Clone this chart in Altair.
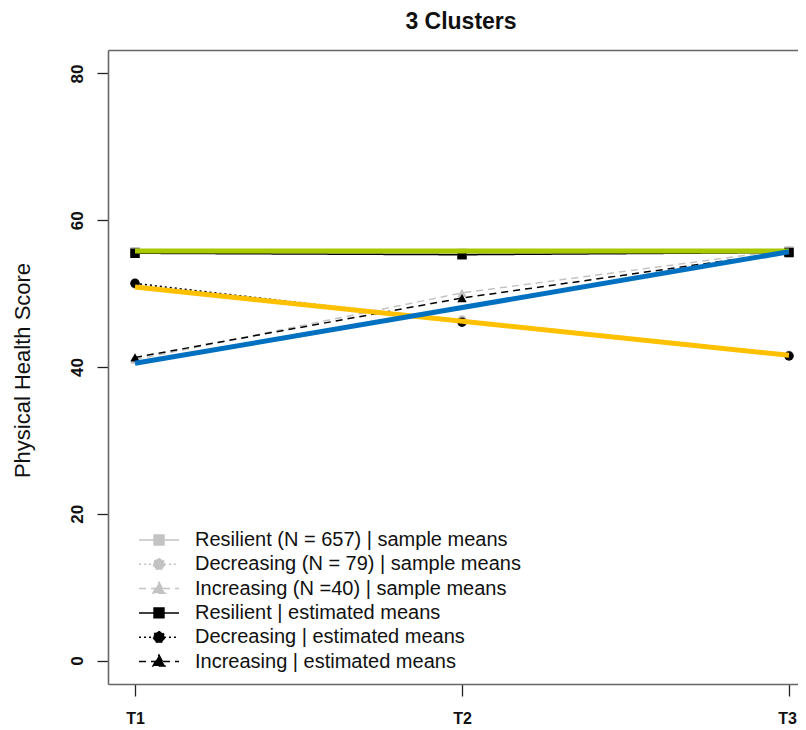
import altair as alt
import pandas as pd

# ---------------- data ----------------
times = [1, 2, 3]
time_labels = ["T1", "T2", "T3"]
y_ticks = [0, 20, 40, 60, 80]

series_labels = [
    "Resilient (N = 657) | sample means",
    "Decreasing (N = 79) | sample means",
    "Increasing (N =40) | sample means",
    "Resilient | estimated means",
    "Decreasing | estimated means",
    "Increasing | estimated means",
]
sample_resilient = [55.7, 55.5, 55.8]
sample_decreasing = [51.3, 46.4, 41.6]
sample_increasing = [41.0, 50.1, 56.0]
est_resilient = [55.5, 55.3, 55.6]
est_decreasing = [51.4, 46.1, 41.5]
est_increasing = [41.3, 49.4, 55.7]
series_values = [sample_resilient, sample_decreasing, sample_increasing,
                 est_resilient, est_decreasing, est_increasing]

series_colors = ["#c3c3c3", "#c3c3c3", "#c3c3c3", "#000000", "#000000", "#000000"]
series_dashes = [[1, 0], [2, 3], [7, 5], [1, 0], [2, 3], [7, 5]]
series_shapes = ["square", "circle", "triangle-up", "square", "circle", "triangle-up"]

# coloured overlay lines (cluster trajectories)
highlight_names = ["Resilient", "Decreasing", "Increasing"]
highlight_t1 = [55.8, 50.9, 40.5]
highlight_t3 = [55.8, 41.6, 55.7]
highlight_colors = ["#a8c800", "#ffc000", "#0070c0"]

# ---------------- tables ----------------
rows = []
for lab, vals in zip(series_labels, series_values):
    for t, v in zip(times, vals):
        rows.append({"series": lab, "time": t, "value": v})
df = pd.DataFrame(rows)

hrows = []
for n, a, b in zip(highlight_names, highlight_t1, highlight_t3):
    hrows.append({"cluster": n, "time": times[0], "value": a})
    hrows.append({"cluster": n, "time": times[-1], "value": b})
hdf = pd.DataFrame(hrows)

FONT = "Liberation Sans"
BOX = "#666666"

# legend symbol paths (line + marker), unit = sqrt(size)/2 = 11 px
legend_paths = {
    "square": "M-1.82,0H1.82M-0.45,-0.45H0.45V0.45H-0.45Z",
    "circle": "M-1.82,0H1.82M0.5,0A0.5,0.5,0,1,1,-0.5,0A0.5,0.5,0,1,1,0.5,0Z",
    "triangle-up": "M-1.82,0H1.82M0,-0.58L0.55,0.42H-0.55Z",
}
legend_shapes = [legend_paths[s] for s in series_shapes]

x_scale = alt.Scale(domain=[0.9174, 3.0275], nice=False, zero=False)
y_scale = alt.Scale(domain=[-3.2, 83.2], nice=False, zero=False)

x_axis = alt.Axis(
    values=times,
    labelExpr="[" + ",".join("'" + s + "'" for s in time_labels) + "][datum.value - 1]",
    title=None,
    labelFontSize=16,
    labelFontWeight="bold",
    labelPadding=14,
    labelOffset={"condition": {"test": f"datum.value == {times[-1]}", "value": -2}, "value": 0},
    tickSize=12,
    domain=True,
)
y_axis = alt.Axis(
    values=y_ticks,
    title="Physical Health Score",
    titleFontSize=22,
    titleFontWeight="normal",
    titleAngle=270,
    titleAlign="center",
    titleBaseline="alphabetic",
    titleX=-79,
    titleY=320,
    labelAngle=270,
    labelAlign="center",
    labelBaseline="alphabetic",
    labelFontSize=17,
    labelFontWeight="bold",
    labelPadding=15,
    tickSize=11,
    domain=True,
)

x_enc = alt.X("time:Q", scale=x_scale, axis=x_axis)
y_enc = alt.Y("value:Q", scale=y_scale, axis=y_axis)

color_scale = alt.Scale(domain=series_labels, range=series_colors)
dash_scale = alt.Scale(domain=series_labels, range=series_dashes)

lines = alt.Chart(df).mark_line(strokeWidth=1.5).encode(
    x=x_enc,
    y=y_enc,
    color=alt.Color("series:N", scale=color_scale, legend=None),
    strokeDash=alt.StrokeDash("series:N", scale=dash_scale, legend=None),
    detail="series:N",
)

points = alt.Chart(df).mark_point(filled=True, opacity=1, size=90).encode(
    x=x_enc,
    y=y_enc,
    color=alt.Color("series:N", scale=color_scale, legend=None),
    shape=alt.Shape(
        "series:N",
        scale=alt.Scale(domain=series_labels, range=series_shapes),
        legend=None,
    ),
)

legend_def = alt.Legend(
    title=None,
    orient="none",
    legendX=39,
    legendY=478,
    padding=0,
    symbolSize=484,
    symbolStrokeWidth=1.5,
    symbolOpacity=1,
    labelFontSize=20,
    labelFont=FONT,
    labelColor="#111111",
    labelOffset=24,
    labelLimit=500,
    rowPadding=2.3,
)

legend_layer = (
    alt.Chart(df)
    .transform_filter("false")
    .mark_point(filled=True, opacity=1, strokeWidth=1.5)
    .encode(
        x=x_enc,
        y=y_enc,
        color=alt.Color("series:N", scale=color_scale, legend=legend_def),
        stroke=alt.Stroke("series:N", scale=color_scale, legend=legend_def),
        strokeDash=alt.StrokeDash("series:N", scale=dash_scale, legend=legend_def),
        shape=alt.Shape(
            "series:N",
            scale=alt.Scale(domain=series_labels, range=legend_shapes),
            legend=legend_def,
        ),
    )
)

highlight_layers = [
    alt.Chart(hdf)
    .transform_filter(alt.datum.cluster == n)
    .mark_line(strokeWidth=5, strokeCap="butt", color=c)
    .encode(x=x_enc, y=y_enc)
    for n, c in zip(highlight_names, highlight_colors)
]

inner = alt.layer(lines, points, *highlight_layers, legend_layer).resolve_scale(
    color="independent", stroke="independent", strokeDash="independent", shape="independent"
)

# top edge of the plot frame
border_top = (
    alt.Chart(df)
    .transform_filter("false")
    .mark_point()
    .encode(
        x=alt.X(
            "time:Q",
            scale=x_scale,
            axis=alt.Axis(orient="top", labels=False, ticks=False, title=None, domain=True),
        ),
        y=y_enc,
    )
)

chart = (
    alt.layer(inner, border_top)
    .resolve_axis(x="independent")
    .properties(
        width=690,
        height=634,
        title=alt.TitleParams(
            "3 Clusters",
            fontSize=23,
            fontWeight="bold",
            font=FONT,
            anchor="middle",
            baseline="alphabetic",
            offset=2,
            dx=8,
            dy=4,
            color="#111111",
        ),
        autosize=alt.AutoSizeParams(type="none"),
        padding={"left": 100, "top": 42, "right": 0, "bottom": 46},
    )
    .configure(font=FONT)
    .configure_view(stroke=None)
    .configure_axis(
        grid=False,
        domainColor=BOX,
        domainWidth=1.6,
        tickColor="#222222",
        tickWidth=1.3,
        labelColor="#111111",
        titleColor="#111111",
        labelFont=FONT,
        titleFont=FONT,
    )
)

chart.save("out.html", embed_options={"renderer": "svg", "actions": False})
